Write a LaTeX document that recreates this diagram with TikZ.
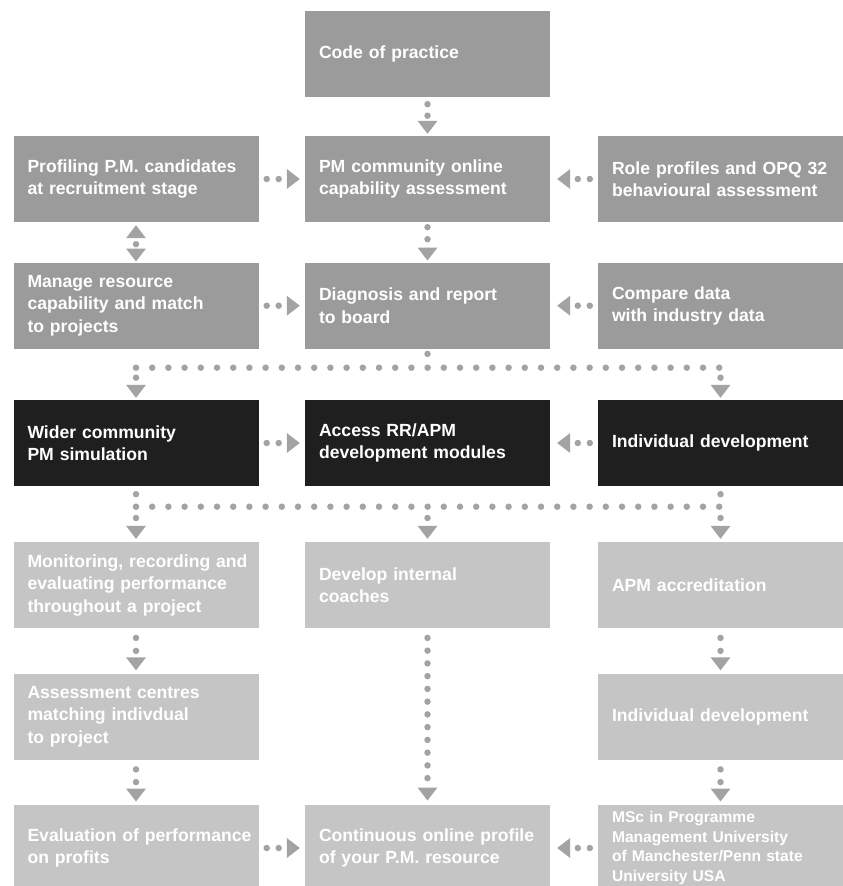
\documentclass[tikz,border=0pt]{standalone}
\usepackage{fontspec}
\setmainfont{Liberation Sans}
\usetikzlibrary{arrows.meta}
\definecolor{boxgray}{HTML}{9B9B9B}
\definecolor{boxlight}{HTML}{C5C5C5}
\definecolor{boxdark}{HTML}{1F1F1F}
\definecolor{conn}{HTML}{A3A3A3}
\tikzset{
  box/.style={rectangle, text width=217pt, inner xsep=14pt, inner ysep=0pt,
    minimum height=86pt, align=left, text=white,
    font=\fontsize{17.6}{22.5}\selectfont\bfseries},
  graybox/.style={box, fill=boxgray},
  darkbox/.style={box, fill=boxdark},
  lightbox/.style={box, fill=boxlight},
  dotlink/.style={draw=conn, line width=6.5pt, line cap=round, dash pattern=on 0pt off #1},
  dotlink/.default=12pt,
  headtri/.style={-{Triangle[width=20pt,length=13pt,line width=0pt]}},
  bothtri/.style={{Triangle[width=20pt,length=13pt,line width=0pt]}-{Triangle[width=20pt,length=13pt,line width=0pt]}},
}
\begin{document}
\begin{tikzpicture}[x=1pt,y=-1pt]
\useasboundingbox (0,0) rectangle (843,886);
\clip (0,0) rectangle (843,886);
% row 0
\node[graybox] (code) at (427.5,54) {Code of practice};
% row 1
\node[graybox] (prof) at (136,179) {Profiling P.M. candidates\\at recruitment stage};
\node[graybox] (pmc) at (427.5,179) {PM community online\\capability assessment};
\node[graybox] (role) at (720.5,179) {Role profiles and OPQ 32\\behavioural assessment};
% row 2
\node[graybox] (manage) at (136,305.7) {Manage resource\\capability and match\\to projects};
\node[graybox] (diag) at (427.5,305.7) {Diagnosis and report\\to board};
\node[graybox] (comp) at (720.5,305.7) {Compare data\\with industry data};
% row 3
\node[darkbox] (wider) at (136,443) {Wider community\\PM simulation};
\node[darkbox] (access) at (427.5,443) {Access RR/APM\\development modules};
\node[darkbox] (indiv) at (720.5,443) {Individual development};
% row 4
\node[lightbox] (monit) at (136,585) {\mbox{Monitoring, recording and}\\evaluating performance\\throughout a project};
\node[lightbox] (coach) at (427.5,585) {Develop internal\\coaches};
\node[lightbox] (apm) at (720.5,585) {APM accreditation};
% row 5
\node[lightbox] (assess) at (136,716.5) {Assessment centres\\matching indivdual\\to project};
\node[lightbox] (indivb) at (720.5,716.5) {Individual development};
% row 6
\node[lightbox] (eval) at (136,848) {\mbox{Evaluation of performance}\\on profits};
\node[lightbox] (cont) at (427.5,848) {Continuous online profile\\of your P.M. resource};
\node[lightbox, font=\fontsize{15.6}{19.5}\selectfont\bfseries] (msc) at (720.5,848)
  {MSc in Programme\\Management University\\of Manchester/Penn state\\University USA};

% bus coordinates
\coordinate (bal) at (136,367.7);
\coordinate (bam) at (427.5,367.7);
\coordinate (bar) at (720.5,367.7);
\coordinate (bbl) at (136,506.7);
\coordinate (bbm) at (427.5,506.7);
\coordinate (bbr) at (720.5,506.7);

% connectors top
\draw[dotlink=11.5pt, headtri, shorten <=7pt, shorten >=2pt] (code) -- (pmc);
\draw[dotlink, headtri, shorten <=8pt, shorten >=5pt] (prof) -- (pmc);
\draw[dotlink, headtri, shorten <=8pt, shorten >=7pt] (role) -- (pmc);
\draw[dotlink, headtri, shorten <=5pt, shorten >=2pt] (pmc) -- (diag);
\draw[dotlink, bothtri, dash phase=6pt, shorten <=3pt, shorten >=1pt] (prof) -- (manage);
\draw[dotlink, headtri, shorten <=8pt, shorten >=5pt] (manage) -- (diag);
\draw[dotlink, headtri, shorten <=8pt, shorten >=7pt] (comp) -- (diag);

% bus 1
\draw[dotlink, shorten <=5pt, shorten >=5pt] (diag) -- (bam);
\draw[dotlink=16.2pt] (bal) -- (bar);
\draw[dotlink, headtri, shorten <=10pt, shorten >=2pt] (bal) -- (wider);
\draw[dotlink, headtri, shorten <=10pt, shorten >=2pt] (bar) -- (indiv);

% row 3 horizontals
\draw[dotlink, headtri, shorten <=8pt, shorten >=5pt] (wider) -- (access);
\draw[dotlink, headtri, shorten <=8pt, shorten >=7pt] (indiv) -- (access);

% bus 2
\draw[dotlink, shorten <=8pt, shorten >=5pt] (wider) -- (bbl);
\draw[dotlink, shorten <=8pt, shorten >=5pt] (indiv) -- (bbr);
\draw[dotlink=16.2pt] (bbl) -- (bbr);
\draw[dotlink, headtri, shorten <=11.3pt, shorten >=3pt] (bbl) -- (monit);
\draw[dotlink, headtri, shorten <=11.3pt, shorten >=3pt] (bbm) -- (coach);
\draw[dotlink, headtri, shorten <=11.3pt, shorten >=3pt] (bbr) -- (apm);

% lower verticals
\draw[dotlink=13pt, headtri, shorten <=9.7pt, shorten >=3pt] (monit) -- (assess);
\draw[dotlink=13pt, headtri, shorten <=9.7pt, shorten >=3pt] (apm) -- (indivb);
\draw[dotlink=12.75pt, headtri, shorten <=9.7pt, shorten >=4.3pt] (coach) -- (cont);
\draw[dotlink=12.7pt, headtri, shorten <=9.7pt, shorten >=3.3pt] (assess) -- (eval);
\draw[dotlink=12.7pt, headtri, shorten <=9.7pt, shorten >=3.3pt] (indivb) -- (msc);

% bottom horizontals
\draw[dotlink, headtri, shorten <=8pt, shorten >=5pt] (eval) -- (cont);
\draw[dotlink, headtri, shorten <=8pt, shorten >=7pt] (msc) -- (cont);
\end{tikzpicture}
\end{document}
